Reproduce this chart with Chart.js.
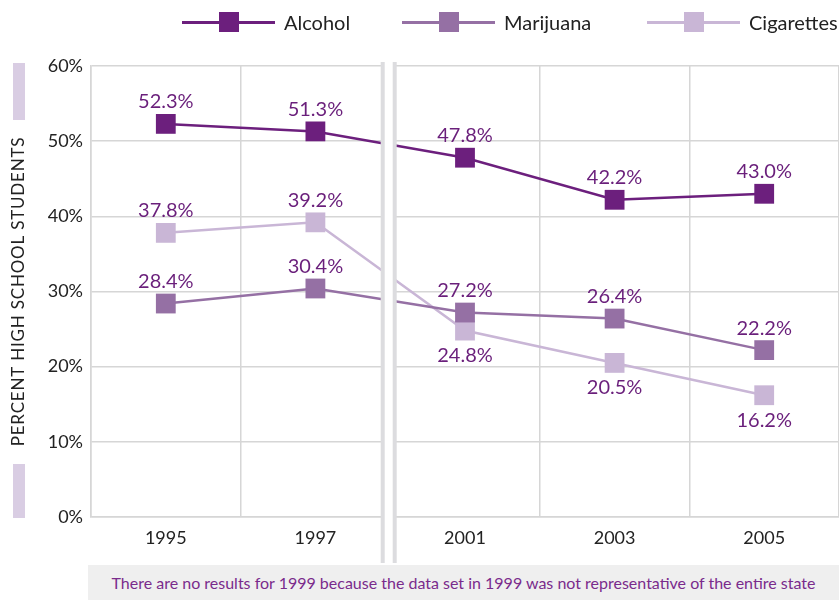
<!DOCTYPE html>
<html>
<head>
<meta charset="utf-8">
<script src="https://cdn.jsdelivr.net/npm/chart.js@4"></script>
<style>
  html, body { margin: 0; padding: 0; background: #fff; }
  #wrap { position: relative; width: 839px; height: 600px; overflow: hidden; font-family: Lato, sans-serif; }
  #chart { position: absolute; left: 0; top: 0; }
  .legend { position: absolute; top: 0; height: 44px; display: flex; align-items: center; font-size: 20px; color: #222; }
  .legend .ln { position: relative; width: 93px; height: 3px; margin-right: 9px; }
  .legend .sq { position: absolute; left: 37px; top: -9px; width: 20px; height: 20px; }
  #note { position: absolute; left: 88px; top: 565px; width: 751px; height: 35px; background: #efefef;
          color: #7a2b8c; font-size: 16px; line-height: 35px; text-align: center; }
</style>
</head>
<body>
<div id="wrap">
  <canvas id="chart" width="839" height="600"></canvas>
  <div id="legend"></div>
  <div id="note">There are no results for 1999 because the data set in 1999 was not representative of the entire state</div>
</div>
<script>
const years      = ['1995', '1997', '2001', '2003', '2005'];
const alcohol    = [52.3, 51.3, 47.8, 42.2, 43.0];
const marijuana  = [28.4, 30.4, 27.2, 26.4, 22.2];
const cigarettes = [37.8, 39.2, 24.8, 20.5, 16.2];
const yTicks     = [0, 10, 20, 30, 40, 50, 60];

const seriesNames  = ['Alcohol', 'Marijuana', 'Cigarettes'];
const seriesColors = ['#6c1f7d', '#9570a4', '#c9b6d6'];
const yTitle = 'PERCENT HIGH SCHOOL STUDENTS';
// label above (-1) or below (+1) each point
const labelSide = [
  [-1, -1, -1, -1, -1],
  [-1, -1, -1, -1, -1],
  [-1, -1, 1, 1, 1]
];
const FONT = 'Lato, sans-serif';

// html legend
const legendLeft = [182, 402, 647];
const legendEl = document.getElementById('legend');
seriesNames.forEach((name, i) => {
  const d = document.createElement('div');
  d.className = 'legend';
  d.style.left = legendLeft[i] + 'px';
  d.innerHTML = '<div class="ln" style="background:' + seriesColors[i] + '"><div class="sq" style="background:' +
    seriesColors[i] + '"></div></div><span>' + name + '</span>';
  legendEl.appendChild(d);
});

const decor = {
  id: 'decor',
  beforeDraw(chart) {
    const c = chart.ctx, a = chart.chartArea;
    c.save();
    c.fillStyle = '#d9cde3';
    c.fillRect(13, a.top - 3, 12, 57);
    c.fillRect(13, a.bottom - 53, 12, 54);
    // rotated y title, letter spaced like the original
    c.translate(19, (a.top + a.bottom) / 2);
    c.rotate(-Math.PI / 2);
    c.font = '17px ' + FONT;
    c.letterSpacing = '0.8px';
    c.fillStyle = '#222';
    c.textAlign = 'center';
    c.textBaseline = 'middle';
    c.fillText(yTitle, 0, 0);
    c.restore();
  },
  afterDatasetsDraw(chart) {
    const c = chart.ctx, a = chart.chartArea, x = chart.scales.x;
    // point labels
    c.save();
    c.font = '20px ' + FONT;
    c.fillStyle = '#6a1f7b';
    c.textAlign = 'center';
    c.textBaseline = 'middle';
    chart.data.datasets.forEach((ds, di) => {
      chart.getDatasetMeta(di).data.forEach((pt, i) => {
        const side = labelSide[di][i];
        c.fillText(ds.data[i].toFixed(1) + '%', pt.x, pt.y + (side < 0 ? -22 : 25));
      });
    });
    // axis break for missing 1999
    const bx = (x.getPixelForValue(1) + x.getPixelForValue(2)) / 2 - 1.5;
    c.fillStyle = '#fff';
    c.fillRect(bx - 5, a.top - 4, 12, 501);
    c.fillStyle = '#dcdcdf';
    c.fillRect(bx - 8, a.top - 4, 4, 501);
    c.fillRect(bx + 4, a.top - 4, 4, 501);
    c.restore();
  }
};

const mk = (label, data, i) => ({
  label, data,
  borderColor: seriesColors[i], backgroundColor: seriesColors[i],
  borderWidth: 2.5, pointStyle: 'rect', pointRadius: 14, pointHoverRadius: 14,
  pointBorderWidth: 0, tension: 0
});

new Chart(document.getElementById('chart'), {
  type: 'line',
  data: {
    labels: years,
    datasets: [mk(seriesNames[0], alcohol, 0), mk(seriesNames[1], marijuana, 1), mk(seriesNames[2], cigarettes, 2)]
  },
  options: {
    responsive: false, animation: false,
    layout: { autoPadding: false, padding: { top: 66, left: 0, right: -2, bottom: 0 } },
    plugins: { legend: { display: false }, tooltip: { enabled: false } },
    scales: {
      x: {
        offset: true,
        grid: { offset: true, color: '#d6d6d6', lineWidth: 1.5, drawTicks: false },
        border: { color: '#d6d6d6', width: 1.5 },
        ticks: { color: '#222', padding: 10, font: { family: FONT, size: 18 } },
        afterFit: s => { s.height = 83; }
      },
      y: {
        min: 0, max: 60,
        afterBuildTicks: s => { s.ticks = yTicks.map(v => ({ value: v })); },
        grid: { color: '#d6d6d6', lineWidth: 1.5, drawTicks: false },
        border: { color: '#d6d6d6', width: 1.5 },
        ticks: { color: '#222', padding: 8, font: { family: FONT, size: 18 }, callback: v => v + '%' },
        afterFit: s => { s.width = 91; }
      }
    }
  },
  plugins: [decor]
});
</script>
</body>
</html>
